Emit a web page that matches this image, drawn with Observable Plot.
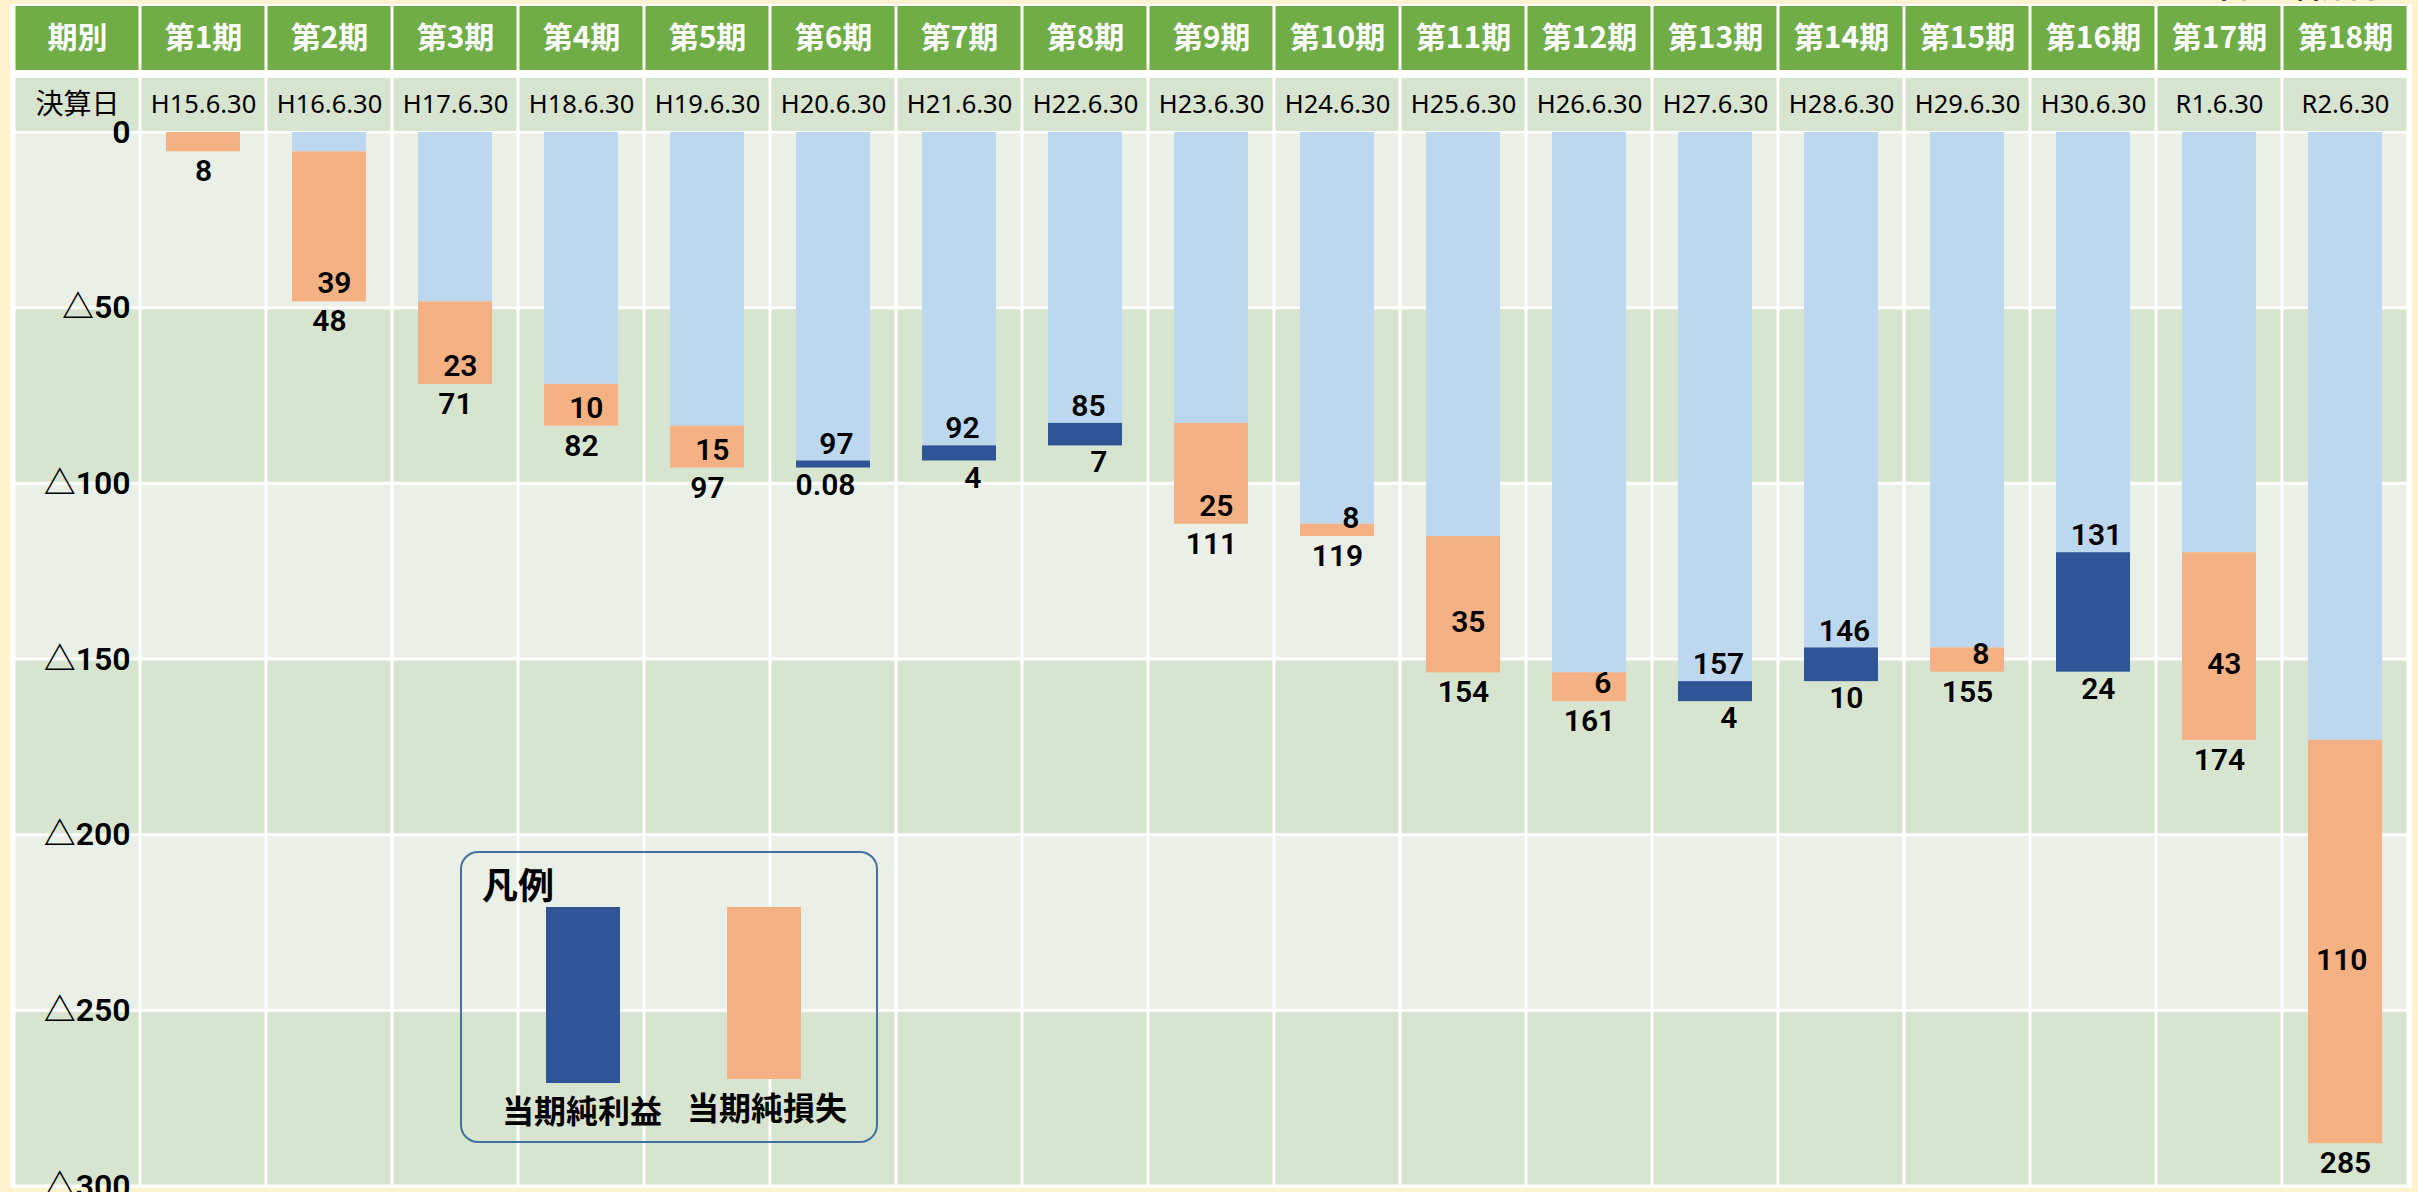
<!DOCTYPE html>
<html>
<head>
<meta charset="utf-8">
<script src="https://cdn.jsdelivr.net/npm/d3@7"></script>
<script src="https://cdn.jsdelivr.net/npm/@observablehq/plot@0.6"></script>
<style>
  html, body { margin: 0; padding: 0; }
  body { width: 2418px; height: 1192px; overflow: hidden; position: relative; background: #FFF2CE; }
  .abs { position: absolute; }
  #table { left: 10px; top: 4px; width: 2402px; height: 1184px; background: #ffffff; }
  #unit { right: 12px; top: -32px; font: 700 28px "Noto Sans CJK JP", sans-serif; color: #000; line-height: 36px; }
  #legend { left: 460px; top: 851px; width: 418px; height: 292px; box-sizing: border-box; border: 2.5px solid #41719C; border-radius: 18px; }
  #legend .title { position: absolute; left: 20px; top: 4px; font: 700 36px "Noto Sans CJK JP", sans-serif; color: #000; line-height: 52px; }
  #legend .sw { position: absolute; top: 54px; width: 74px; }
  #legend .lab { position: absolute; width: 200px; text-align: center; font: 700 32px "Noto Sans CJK JP", sans-serif; color: #000; line-height: 40px; }
</style>
</head>
<body>
<div id="table" class="abs"></div>
<div id="unit" class="abs">（単位：百万円）</div>
<div id="h1" class="abs" style="left:12px; top:6px;"></div>
<div id="h2" class="abs" style="left:12px; top:78px;"></div>
<div id="main" class="abs" style="left:12px; top:118px;"></div>
<div id="legend" class="abs"></div>
<script>
// ---------------- data ----------------
const labelColumn = "期別";
const dateRowTitle = "決算日";
const periods = ["第1期","第2期","第3期","第4期","第5期","第6期","第7期","第8期","第9期","第10期","第11期","第12期","第13期","第14期","第15期","第16期","第17期","第18期"];
const closingDates = ["H15.6.30","H16.6.30","H17.6.30","H18.6.30","H19.6.30","H20.6.30","H21.6.30","H22.6.30","H23.6.30","H24.6.30","H25.6.30","H26.6.30","H27.6.30","H28.6.30","H29.6.30","H30.6.30","R1.6.30","R2.6.30"];
// cumulative balance level at which each period's bar ends (百万円)
const barLevel = [-5.5, -48.2, -71.7, -83.6, -95.5, -93.5, -89.2, -82.8, -111.5, -115, -153.8, -162, -156.3, -146.7, -153.6, -119.6, -173, -287.8];
// net result of each period (positive = 当期純利益, negative = 当期純損失)
const netResult = [-8, -39, -23, -10, -15, 0.08, 4, 7, -25, -8, -35, -6, 4, 10, -8, 24, -43, -110];
// cumulative balance label of each period
const balanceLabel = ["8","48","71","82","97","97","92","85","111","119","154","161","157","146","155","131","174","285"];
const changeLabel = ["8","39","23","10","15","0.08","4","7","25","8","35","6","4","10","8","24","43","110"];
const yTicks = [0, -50, -100, -150, -200, -250, -300];
const yTickLabels = ["0","△50","△100","△150","△200","△250","△300"];
const legendItems = ["当期純利益", "当期純損失"];

// ---------------- styles ----------------
const C_HEADER = "#70AD47", C_BAND_DARK = "#D7E4CF", C_BAND_LIGHT = "#EAF0E8";
const C_BASE = "#BDD7EE", C_LOSS = "#F4B183", C_PROFIT = "#2F5597";
const NUM_FONT = "Roboto, 'Noto Sans CJK JP', sans-serif";
const CJK_FONT = "'Noto Sans CJK JP', sans-serif";
const W = 2398;
const columns = [labelColumn, ...periods];
const xScale = {type: "band", domain: columns, padding: 0, axis: null};
const svgStyle = {background: "transparent", overflow: "visible"};

// ---------------- header rows ----------------
const row1 = columns.map(c => ({key: c, text: c}));
const row2 = columns.map((c, i) => ({key: c, text: i === 0 ? dateRowTitle : closingDates[i - 1]}));

const h1 = Plot.plot({
  width: W, height: 64, margin: 0, x: xScale, style: svgStyle,
  marks: [
    Plot.cell(row1, {x: "key", fill: C_HEADER, insetLeft: 1.5, insetRight: 1.5, insetTop: 0, insetBottom: 0}),
    Plot.text(row1, {x: "key", text: "text", fill: "white", fontSize: 30, fontWeight: 700, fontFamily: CJK_FONT})
  ]
});
document.getElementById("h1").appendChild(h1);

const h2 = Plot.plot({
  width: W, height: 53, margin: 0, x: xScale, style: svgStyle,
  marks: [
    Plot.cell(row2, {x: "key", fill: C_BAND_DARK, insetLeft: 1.5, insetRight: 1.5, insetTop: 0, insetBottom: 0}),
    Plot.text(row2.slice(0, 1), {x: "key", text: "text", fill: "black", fontSize: 28, fontFamily: CJK_FONT}),
    Plot.text(row2.slice(1), {x: "key", text: "text", fill: "black", fontSize: 25.5, fontFamily: "'Noto Sans', sans-serif"})
  ]
});
document.getElementById("h2").appendChild(h2);

// ---------------- main chart ----------------
const intervals = yTicks.slice(0, -1).map((t, k) => ({top: t, bottom: yTicks[k + 1], k}));
const stripes = columns.flatMap(c => intervals.map(iv => ({col: c, top: iv.top, bottom: iv.bottom, fill: iv.k % 2 ? C_BAND_DARK : C_BAND_LIGHT})));

const rows = periods.map((p, i) => {
  const start = i === 0 ? 0 : barLevel[i - 1];
  const end = barLevel[i];
  return {period: p, i, start, end, profit: netResult[i] > 0, change: changeLabel[i], balance: balanceLabel[i]};
});
const centeredLabels = new Set(["第11期", "第17期", "第18期"]);
const lossRows = rows.filter(d => !d.profit);
const profitRows = rows.filter(d => d.profit);

const axisLabels = yTicks.map((t, k) => ({y: t, text: yTickLabels[k]}));
const numText = {fill: "black", fontSize: 30, fontWeight: 600, fontFamily: NUM_FONT};

const main = Plot.plot({
  width: W, height: 1074, marginTop: 14, marginBottom: 6, marginLeft: 0, marginRight: 0,
  x: xScale,
  y: {domain: [-300, 0], axis: null},
  color: {type: "identity"},
  style: svgStyle,
  marks: [
    Plot.barY(stripes, {x: "col", y1: "top", y2: "bottom", fill: "fill", inset: 1.5}),
    Plot.barY(rows.filter(d => Math.max(d.start, d.end) < 0), {x: "period", y1: 0, y2: d => Math.max(d.start, d.end), fill: C_BASE, insetLeft: 26, insetRight: 26}),
    Plot.barY(rows, {x: "period", y1: "start", y2: "end", fill: d => d.profit ? C_PROFIT : C_LOSS, insetLeft: 26, insetRight: 26}),
    // y axis labels in the first column
    Plot.text(axisLabels, {x: () => labelColumn, y: "y", text: "text", textAnchor: "end", dx: 53, ...numText, fontSize: 32}),
    // loss periods: change label inside the bar, balance below
    Plot.text(lossRows.filter(d => d.i > 0 && !centeredLabels.has(d.period)), {x: "period", y: "end", text: "change", textAnchor: "end", dx: 22, dy: -18, ...numText}),
    Plot.text(lossRows.filter(d => centeredLabels.has(d.period)), {x: "period", y: d => (d.start + d.end) / 2, text: "change", textAnchor: "end", dx: 22, dy: 18, ...numText}),
    Plot.text(lossRows, {x: "period", y: "end", text: "balance", dy: 20, ...numText}),
    // profit periods: balance above, change below
    Plot.text(profitRows, {x: "period", y: "end", text: "balance", dx: 3, dy: -17, ...numText}),
    Plot.text(profitRows, {x: "period", y: "start", text: "change", textAnchor: "end", dx: 22, dy: 17, ...numText})
  ]
});
document.getElementById("main").appendChild(main);

// ---------------- legend ----------------
const legend = document.getElementById("legend");
legend.innerHTML = `<div class="title">凡例</div>
  <div class="sw" style="left:84px; height:176px; background:${C_PROFIT}"></div>
  <div class="sw" style="left:265px; height:172px; background:${C_LOSS}"></div>
  <div class="lab" style="left:20px; top:236px">${legendItems[0]}</div>
  <div class="lab" style="left:205px; top:233px">${legendItems[1]}</div>`;
</script>
</body>
</html>
